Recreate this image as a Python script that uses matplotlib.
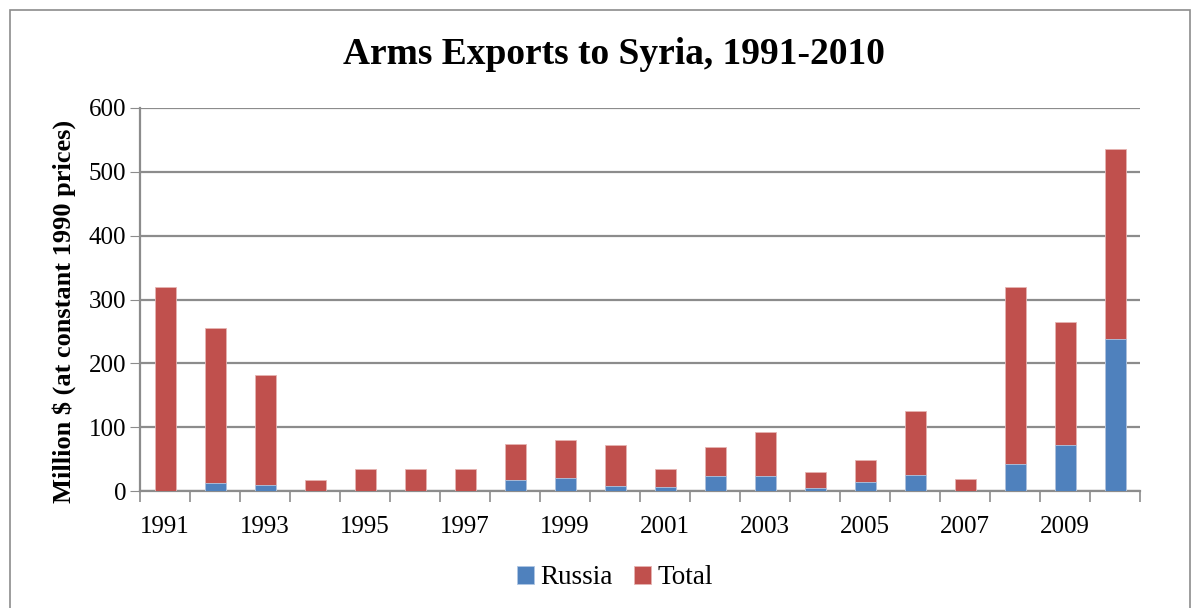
import matplotlib
matplotlib.use("Agg")
import matplotlib.pyplot as plt
from matplotlib.patches import Rectangle
import numpy as np

years = list(range(1991, 2011))
total = [320, 256, 182, 17, 34, 34, 34, 74, 80, 72, 35, 69, 93, 29, 49, 125, 19, 320, 264, 536]
russia = [0, 13, 9, 0, 0, 0, 0, 18, 21, 8, 7, 24, 24, 4, 14, 25, 0, 43, 72, 238]

plt.rcParams["font.family"] = ["Liberation Serif", "DejaVu Serif"]

fig = plt.figure(figsize=(11.98, 6.08), dpi=100)
ax = fig.add_axes([140 / 1198, 1 - 491 / 608, 1000 / 1198, 383 / 608])

# outer chart border
fig.patches.append(Rectangle((10 / 1198, -0.01), 1180 / 1198, 1 - 10 / 608 + 0.01,
                             transform=fig.transFigure, fill=False,
                             edgecolor="#8c8c8c", linewidth=1.2))

x = np.arange(len(years))
ax.bar(x, total, width=0.42, color="#c0504d", edgecolor="#e6b3b2", linewidth=0.6,
       label="Total", zorder=3)
ax.bar(x, russia, width=0.42, color="#4f81bd", edgecolor="#b0c7e3", linewidth=0.6,
       label="Russia", zorder=4)

ax.set_xlim(-0.5, len(years) - 0.5)
ax.set_ylim(0, 600)
ax.set_yticks(range(0, 601, 100))
ax.tick_params(axis="y", labelsize=18, length=7, color="#8c8c8c", pad=3)
ax.yaxis.grid(True, color="#8c8c8c", linewidth=1.6, zorder=0)
ax.set_axisbelow(True)

# category boundary ticks and odd-year labels
ax.set_xticks(np.arange(-0.5, len(years), 1.0))
ax.set_xticklabels([])
ax.set_xticks(x[::2], minor=True)
ax.set_xticklabels([str(y) for y in years[::2]], minor=True, fontsize=18)
ax.tick_params(axis="x", which="major", length=8, color="#8c8c8c", width=1.2)
ax.tick_params(axis="x", which="minor", length=0, pad=18)

for side in ("top", "right"):
    ax.spines[side].set_visible(False)
for side in ("left", "bottom"):
    ax.spines[side].set_color("#8c8c8c")
    ax.spines[side].set_linewidth(1.6)

ax.set_ylabel("Million $ (at constant 1990 prices)", fontsize=19, fontweight="bold",
              va="center")
ax.yaxis.set_label_coords(-0.076, 0.47)
fig.text(614 / 1198, 1 - 55 / 608, "Arms Exports to Syria, 1991-2010", ha="center",
         va="center", fontsize=27, fontweight="bold")

handles, labels = ax.get_legend_handles_labels()
fig.legend(handles[::-1], labels[::-1], loc="center", bbox_to_anchor=(615 / 1198, 1 - 578 / 608),
           ncol=2, frameon=False, fontsize=19.5, handlelength=0.6, handleheight=0.6,
           handletextpad=0.25, columnspacing=0.8)

fig.savefig("out.png", dpi=100)
